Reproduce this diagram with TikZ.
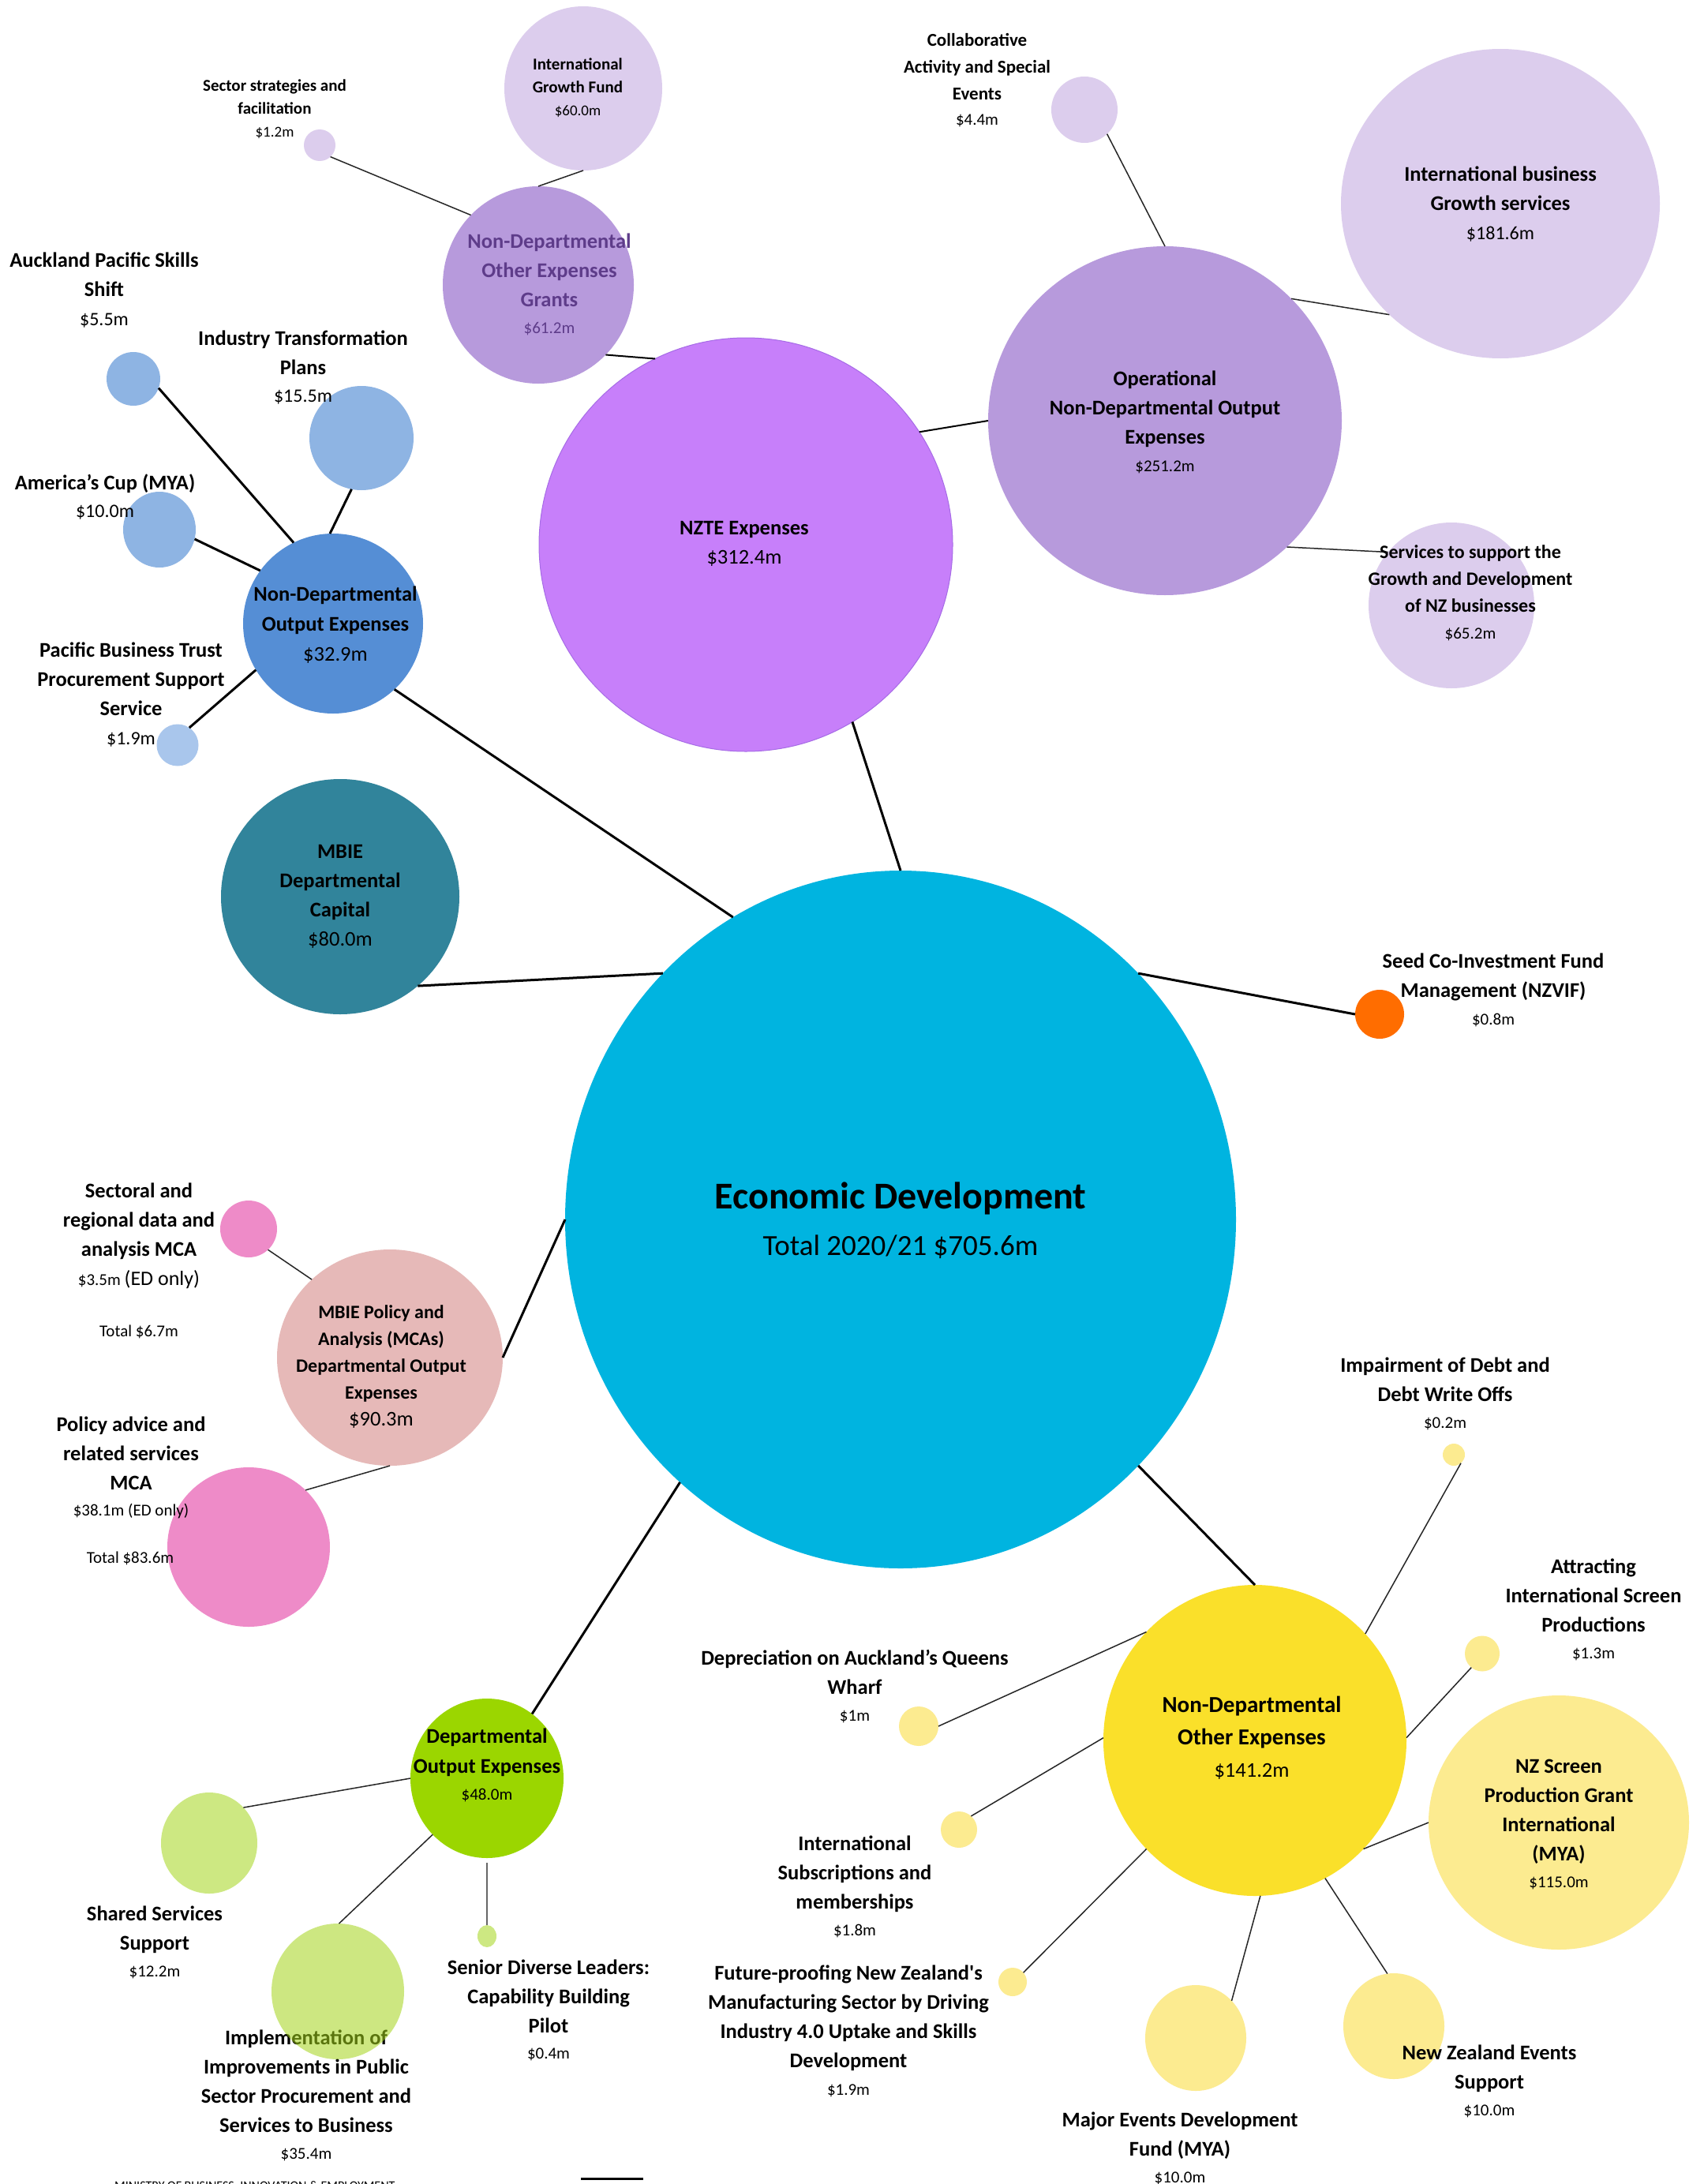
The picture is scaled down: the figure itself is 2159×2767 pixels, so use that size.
\documentclass[tikz,border=0pt]{standalone}
\usepackage{fontspec}
\setmainfont{Carlito}
\usetikzlibrary{shapes.geometric}
\definecolor{edcyan}{HTML}{00B4E0}
\definecolor{nztepurple}{HTML}{C77FFA}
\definecolor{nzteedge}{HTML}{A66BE6}
\definecolor{midpurple}{HTML}{B79ADC}
\definecolor{lav}{HTML}{DCCDED}
\definecolor{grtext}{HTML}{5E3C8A}
\definecolor{ndblue}{HTML}{558ED5}
\definecolor{ltblue}{HTML}{8EB4E3}
\definecolor{ltbluetwo}{HTML}{A9C6EC}
\definecolor{tealc}{HTML}{31849B}
\definecolor{orangec}{HTML}{FF6D00}
\definecolor{pinkc}{HTML}{EE8BC8}
\definecolor{rosec}{HTML}{E6B9B8}
\definecolor{greenc}{HTML}{9BD600}
\definecolor{ltgreen}{HTML}{CDE882}
\definecolor{implgreen}{RGB}{164,213,27}
\definecolor{yellowc}{HTML}{FAE02A}
\definecolor{ltyellow}{HTML}{FCEB90}
\newcommand\lbM{\fontsize{26.5}{37}\selectfont\bfseries}
\newcommand\lbS{\fontsize{21}{29}\selectfont\bfseries}
\newcommand\vS{\fontsize{19}{29}\selectfont\mdseries}
\newcommand\vT{\fontsize{21}{30}\selectfont\mdseries}
\newcommand\vM{\fontsize{24}{37}\selectfont\mdseries}
\newcommand\vL{\fontsize{26.5}{37}\selectfont\mdseries}
\newcommand\mkbub[6]{\node[bub,fill=#6,minimum width=#4pt,minimum height=#5pt] (#1) at (#2,#3) {};}
\begin{document}
\begin{tikzpicture}[x=1pt,y=-1pt,
  bub/.style={ellipse,inner sep=0pt,outer sep=0pt,draw=none},
  lk/.style={line width=3pt,black},
  lm/.style={line width=2pt,black},
  lt/.style={line width=1.5pt,black!85},
  tx/.style={align=center,inner sep=0pt,text=black}]
\useasboundingbox (0,0) rectangle (2159,2767);
\fill[white] (0,0) rectangle (2159,2767);
% bubbles
\mkbub{ed}{1141}{1545}{850}{884}{edcyan}
\node[bub,fill=nztepurple,draw=nzteedge,line width=1pt,minimum width=524pt,minimum height=524pt] (nzte) at (945,690) {};
\mkbub{grants}{682}{361}{242}{250}{midpurple}
\mkbub{igf}{739}{112}{200}{208}{lav}
\mkbub{sector}{405}{184}{40}{40}{lav}
\mkbub{oper}{1476}{533}{448}{442}{midpurple}
\mkbub{collab}{1374}{139}{84}{84}{lav}
\mkbub{ibg}{1901}{258}{404}{392}{lav}
\mkbub{services}{1839}{767}{210}{210}{lav}
\mkbub{ndoe}{422}{790}{228}{228}{ndblue}
\mkbub{auck}{169}{480}{68}{68}{ltblue}
\mkbub{itp}{458}{555}{132}{132}{ltblue}
\mkbub{amcup}{202}{671}{92}{96}{ltblue}
\mkbub{pbt}{225}{944}{53}{53}{ltbluetwo}
\mkbub{mbiecap}{431}{1136}{302}{298}{tealc}
\mkbub{seed}{1748}{1285}{62}{62}{orangec}
\mkbub{sectoral}{315}{1557}{72}{72}{pinkc}
\mkbub{policy}{494}{1720}{286}{274}{rosec}
\mkbub{padvice}{315}{1960}{206}{202}{pinkc}
\mkbub{dept}{617}{2253}{194}{202}{greenc}
\mkbub{shared}{265}{2335}{122}{128}{ltgreen}
\mkbub{senior}{617}{2453}{24}{28}{ltgreen}
\mkbub{ndoey}{1590}{2205}{384}{394}{yellowc}
\mkbub{dep}{1164}{2187}{50}{50}{ltyellow}
\mkbub{isub}{1215}{2318}{46}{46}{ltyellow}
\mkbub{future}{1283}{2511}{36}{36}{ltyellow}
\mkbub{major}{1515}{2582}{128}{134}{ltyellow}
\mkbub{nzev}{1766}{2567}{128}{134}{ltyellow}
\mkbub{screen}{1975}{2309}{330}{322}{ltyellow}
\mkbub{attract}{1878}{2095}{44}{45}{ltyellow}
\mkbub{impair}{1842}{1843}{28}{28}{ltyellow}
% implementation label lies partly under its bubble
\node[tx,font=\lbM] (t-impl) at (388,2655) {Implementation of\\Improvements in Public\\Sector Procurement and\\Services to Business\\[-3pt]\vT \$35.4m};
\node[bub,fill=implgreen,fill opacity=0.55,minimum width=168pt,minimum height=172pt] (impl) at (428,2523) {};
% connectors
\draw[lt] (sector.-47) -- (grants.134);
\draw[lt] (igf.-90) -- (grants.90);
\draw[lm] (grants.-46) -- (nzte.116);
\draw[lm] (nzte.33) -- (oper.180);
\draw[lt] (collab.-47) -- (oper.90);
\draw[lt] (oper.44.5) -- (ibg.-135.4);
\draw[lt] (oper.-46) -- (services.140);
\draw[lk] (nzte.-59) -- (ed.90);
\draw[lk] (ndoe.-47) -- (ed.119);
\draw[lk] (auck.-20) -- (ndoe.116);
\draw[lk] (itp.-101) -- (ndoe.92);
\draw[lk] (amcup.-15) -- (ndoe.144);
\draw[lk] (pbt.56) -- (ndoe.-149);
\draw[lk] (mbiecap.-49) -- (ed.134);
\draw[lk] (ed.46) -- (seed.180);
\draw[lt] (sectoral.-47) -- (policy.135);
\draw[lk] (policy.0) -- (ed.180);
\draw[lt] (padvice.45) -- (policy.-90);
\draw[lk] (ed.-130) -- (dept.55);
\draw[lt] (shared.46) -- (dept.180);
\draw[lt] (impl.89) -- (dept.-134);
\draw[line width=1.5pt,black!60] (senior.north) -- ([yshift=-6pt]dept.south);
\draw[lk] (ed.-46) -- (ndoey.90);
\draw[lt] (impair.-50) -- (ndoey.44);
\draw[lt] (attract.-128) -- (ndoey.1.5);
\draw[lt] (screen.180) -- (ndoey.-45);
\draw[lt] (nzev.97) -- (ndoey.-63);
\draw[lt] (major.46) -- (ndoey.-88);
\draw[lt] (future.41) -- (ndoey.-135);
\draw[lt] (isub.48) -- (ndoey.179);
\draw[lt] (dep.0) -- (ndoey.135);
% labels
\node[tx,font=\lbS] (t-sector) at (348,138) {Sector strategies and\\facilitation\\\vS \$1.2m};
\node[tx,font=\lbS] (t-igf) at (732,111) {International\\Growth Fund\\\vS \$60.0m};
\node[tx,font=\lbM,text=grtext] (t-grants) at (696,360) {Non-Departmental\\Other Expenses\\Grants\\[-3pt]\vT \$61.2m};
\node[tx,font=\lbM] (t-nzte) at (943,689) {NZTE Expenses\\\vL \$312.4m};
\node[tx,font=\fontsize{23}{34}\selectfont\bfseries] (t-collab) at (1238,102) {Collaborative\\Activity and Special\\Events\\[-2pt]\vT \$4.4m};
\node[tx,font=\lbM] (t-ibg) at (1901,259) {International business\\Growth services\\\vM \$181.6m};
\node[tx,font=\lbM] (t-oper) at (1476,535) {Operational\\Non-Departmental Output\\Expenses\\[-2pt]\vT \$251.2m};
\node[tx,font=\fontsize{24}{34}\selectfont\bfseries] (t-services) at (1863,751) {Services to support the\\Growth and Development\\of NZ businesses\\\vT \$65.2m};
\node[tx,font=\lbM] (t-auck) at (132,368) {Auckland Pacific Skills\\Shift\\\vM \$5.5m};
\node[tx,font=\lbM] (t-itp) at (384,466) {Industry Transformation\\Plans\\[-2pt]\vM \$15.5m};
\node[tx,font=\lbM] (t-amcup) at (133,629) {America’s Cup (MYA)\\[-2pt]\vM \$10.0m};
\node[tx,font=\fontsize{26.5}{38}\selectfont\bfseries] (t-ndoe) at (425,792) {Non-Departmental\\Output Expenses\\\vL \$32.9m};
\node[tx,font=\lbM] (t-pbt) at (166,880) {Pacific Business Trust\\Procurement Support\\Service\\\vM \$1.9m};
\node[tx,font=\lbM] (t-mbiecap) at (431,1136) {MBIE\\Departmental\\Capital\\\vL \$80.0m};
\node[tx,font=\fontsize{48}{59}\selectfont\bfseries] (t-ed) at (1141,1546) {Economic Development\\\fontsize{37}{59}\selectfont\mdseries Total 2020/21 \$705.6m};
\node[tx,font=\lbM] (t-seed) at (1892,1254) {Seed Co-Investment Fund\\Management (NZVIF)\\[-2pt]\vT \$0.8m};
\node[tx,font=\lbM] (t-sectoral) at (176,1566) {Sectoral and\\regional data and\\analysis MCA\\\vT \$3.5m {\fontsize{26}{37}\selectfont (ED only)}};
\node[tx,font=\vT] (t-sectotal) at (176,1687) {Total \$6.7m};
\node[tx,font=\fontsize{24}{34}\selectfont\bfseries] (t-policy) at (483,1732) {MBIE Policy and\\Analysis (MCAs)\\Departmental Output\\Expenses\\\vL \$90.3m};
\node[tx,font=\lbM] (t-padvice) at (166,1859) {Policy advice and\\related services\\MCA\\[-4pt]\vT \$38.1m (ED only)};
\node[tx,font=\vT] (t-patotal) at (165,1974) {Total \$83.6m};
\node[tx,font=\fontsize{26.5}{38}\selectfont\bfseries] (t-dept) at (617,2236) {Departmental\\Output Expenses\\[-4pt]\vT \$48.0m};
\node[tx,font=\lbM] (t-shared) at (196,2461) {Shared Services\\Support\\[-3pt]\vT \$12.2m};
\node[tx,font=\lbM] (t-senior) at (695,2547) {Senior Diverse Leaders:\\Capability Building\\Pilot\\[-4pt]\vT \$0.4m};
\node[tx,font=\fontsize{29}{41}\selectfont\bfseries] (t-ndoey) at (1586,2202) {Non-Departmental\\Other Expenses\\\fontsize{26.5}{41}\selectfont\mdseries \$141.2m};
\node[tx,font=\lbM] (t-dep) at (1083,2137) {Depreciation on Auckland’s Queens\\Wharf\\[-3pt]\vT \$1m};
\node[tx,font=\lbM] (t-isub) at (1083,2390) {International\\Subscriptions and\\memberships\\[-3pt]\vT \$1.8m};
\node[tx,font=\lbM] (t-future) at (1075,2573) {Future-proofing New Zealand\textquotesingle s\\Manufacturing Sector by Driving\\Industry 4.0 Uptake and Skills\\Development\\[-2pt]\vT \$1.9m};
\node[tx,font=\lbM] (t-major) at (1495,2722) {Major Events Development\\Fund (MYA)\\[-3pt]\vT \$10.0m};
\node[tx,font=\lbM] (t-nzev) at (1887,2637) {New Zealand Events\\Support\\[-3pt]\vT \$10.0m};
\node[tx,font=\lbM] (t-screen) at (1975,2311) {NZ Screen\\Production Grant\\International\\(MYA)\\[-3pt]\vT \$115.0m};
\node[tx,font=\lbM] (t-attract) at (2019,2039) {Attracting\\International Screen\\Productions\\[-3pt]\vT \$1.3m};
\node[tx,font=\lbM] (t-impair) at (1831,1766) {Impairment of Debt and\\Debt Write Offs\\[-3pt]\vT \$0.2m};
% footer (cut off at the page edge, as in the source)
\node[anchor=base west,inner sep=0pt,font=\fontsize{16}{18}\selectfont] (footer) at (145,2774) {MINISTRY OF BUSINESS, INNOVATION \& EMPLOYMENT};
\coordinate (fla) at (736,2760);
\coordinate (flb) at (815,2760);
\draw[line width=3pt] (fla) -- (flb);
\end{tikzpicture}
\end{document}
